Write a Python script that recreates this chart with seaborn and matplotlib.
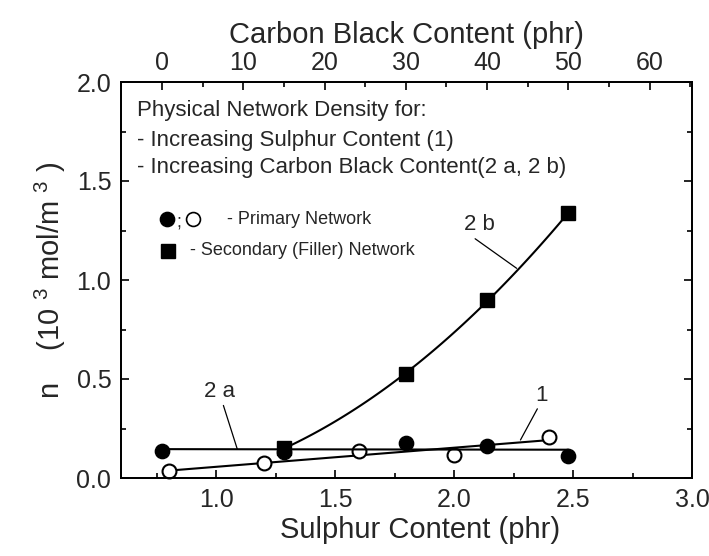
import numpy as np
import pandas as pd
import matplotlib
matplotlib.use("Agg")
import matplotlib.pyplot as plt
import seaborn as sns
from matplotlib.ticker import MultipleLocator

# ---- data ----
sulphur = [0.8, 1.2, 1.6, 2.0, 2.4]                 # phr (curve 1, open circles)
n_sulphur = [0.037, 0.074, 0.136, 0.116, 0.209]

carbon_primary = [0, 15, 30, 40, 50]                # phr (curve 2a, filled circles)
n_primary = [0.138, 0.133, 0.175, 0.162, 0.113]

carbon_filler = [15, 30, 40, 50]                    # phr (curve 2b, squares)
n_filler = [0.150, 0.524, 0.900, 1.337]

x_ticks = [1.0, 1.5, 2.0, 2.5, 3.0]
y_ticks = [0.0, 0.5, 1.0, 1.5, 2.0]
top_ticks = [0, 10, 20, 30, 40, 50, 60]

sns.set_style("ticks")
plt.rcParams['font.family'] = ['Liberation Sans', 'DejaVu Sans']
plt.rcParams['mathtext.fontset'] = 'custom'
plt.rcParams['mathtext.rm'] = 'Liberation Sans'

fig = plt.figure(figsize=(7.09, 5.56), dpi=100)
ax = fig.add_axes([121/709, 78/556, 571/709, 396/556])
ax.set_xlim(0.6, 3.0)
ax.set_ylim(0, 2.0)
ax2 = ax.twiny()
ax2.set_xlim(-5.03, 65.2)

df_s = pd.DataFrame({"x": sulphur, "n": n_sulphur})
df_p = pd.DataFrame({"x": carbon_primary, "n": n_primary})
df_f = pd.DataFrame({"x": carbon_filler, "n": n_filler})

# fitted lines
c1 = np.polyfit(sulphur, n_sulphur, 1)
xs = np.linspace(min(sulphur), max(sulphur), 50)
fit1 = pd.DataFrame({"x": xs, "n": np.polyval(c1, xs)})
c2a = np.polyfit(carbon_primary, n_primary, 1)
xa = np.linspace(min(carbon_primary), max(carbon_primary), 50)
fit2a = pd.DataFrame({"x": xa, "n": np.polyval(c2a, xa)})
c2b = np.polyfit(carbon_filler, n_filler, 2)
xb = np.linspace(min(carbon_filler), max(carbon_filler), 100)
fit2b = pd.DataFrame({"x": xb, "n": np.polyval(c2b, xb)})

lw = 1.5
sns.lineplot(data=fit1, x="x", y="n", ax=ax, color="black", lw=lw, zorder=2)
sns.lineplot(data=fit2a, x="x", y="n", ax=ax2, color="black", lw=lw, zorder=2)
sns.lineplot(data=fit2b, x="x", y="n", ax=ax2, color="black", lw=lw, zorder=2)

ms = 10.3
ax.plot(df_s["x"], df_s["n"], "o", ms=10, mfc="white", mec="black", mew=1.5, zorder=3, clip_on=False)
ax2.plot(df_f["x"], df_f["n"], "s", ms=ms, mfc="black", mec="black", zorder=3, clip_on=False)
ax2.plot(df_p["x"], df_p["n"], "o", ms=ms, mfc="black", mec="black", zorder=4, clip_on=False)

# axes styling
for a in (ax, ax2):
    for sp in a.spines.values():
        sp.set_visible(True)
        sp.set_linewidth(1.3)
        sp.set_color("black")

ax.set_xticks(x_ticks)
ax.set_xticklabels([f"{v:.1f}" for v in x_ticks])
ax.set_yticks(y_ticks)
ax.set_yticklabels([f"{v:.1f}" for v in y_ticks])
ax.xaxis.set_minor_locator(MultipleLocator(0.25))
ax.yaxis.set_minor_locator(MultipleLocator(0.25))
ax.tick_params(which="both", direction="in", right=True, top=False, labelsize=18, color="black", width=1.2)
ax.tick_params(which="major", length=6, pad=7)
ax.tick_params(which="minor", length=3.5)
ax2.set_xticks(top_ticks)
ax2.set_xticklabels([str(v) for v in top_ticks])
ax2.xaxis.set_minor_locator(MultipleLocator(5))
ax2.tick_params(which="both", direction="in", labelsize=18, color="black", width=1.2)
ax2.tick_params(which="major", length=6, pad=5)
ax2.tick_params(which="minor", length=3.5)
ax2.set_ylim(0, 2.0)

ax.set_xlabel("Sulphur Content (phr)", fontsize=21, labelpad=3)
ax.xaxis.label.set_x((420 - 121) / 571)
ax2.set_xlabel("Carbon Black Content (phr)", fontsize=21, labelpad=6)
ax.set_ylabel(r"n    (10 $^{3}$ mol/m $^{3}$ )", fontsize=21, labelpad=6)

# annotations
fs_txt = 16
ax.text(0.028, 0.929, "Physical Network Density for:", transform=ax.transAxes, fontsize=fs_txt, va="center", ha="left")
ax.text(0.028, 0.8535, "- Increasing Sulphur Content (1)", transform=ax.transAxes, fontsize=fs_txt, va="center", ha="left")
ax.text(0.028, 0.783, "- Increasing Carbon Black Content(2 a, 2 b)", transform=ax.transAxes, fontsize=fs_txt, va="center", ha="left")

ax.plot([0.0811], [0.6533], "o", ms=ms, mfc="black", mec="black", transform=ax.transAxes, clip_on=False)
ax.text(0.101, 0.647, ";", transform=ax.transAxes, fontsize=13, va="center", ha="center")
ax.plot([0.1265], [0.6533], "o", ms=10, mfc="white", mec="black", mew=1.2, transform=ax.transAxes, clip_on=False)
ax.text(0.185, 0.6533, "- Primary Network", transform=ax.transAxes, fontsize=13, va="center", ha="left")
ax.plot([0.0828], [0.574], "s", ms=ms, mfc="black", mec="black", transform=ax.transAxes, clip_on=False)
ax.text(0.1208, 0.574, "- Secondary (Filler) Network", transform=ax.transAxes, fontsize=13, va="center", ha="left")

arrow = dict(arrowstyle="-", color="black", lw=0.9, shrinkA=0, shrinkB=0)
ax.annotate("2 b", xy=(2.263, 1.059), xytext=(2.108, 1.278), fontsize=16, ha="center", va="center",
            arrowprops=dict(arrow, relpos=(0.2, 0.0)))
ax.annotate("2 a", xy=(1.089, 0.145), xytext=(1.013, 0.436), fontsize=16, ha="center", va="center",
            arrowprops=dict(arrow, relpos=(0.6, 0.0)))
ax.annotate("1", xy=(2.279, 0.192), xytext=(2.368, 0.419), fontsize=16, ha="center", va="center",
            arrowprops=dict(arrow, relpos=(0.3, 0.0)))

fig.savefig("out.png", dpi=100)
